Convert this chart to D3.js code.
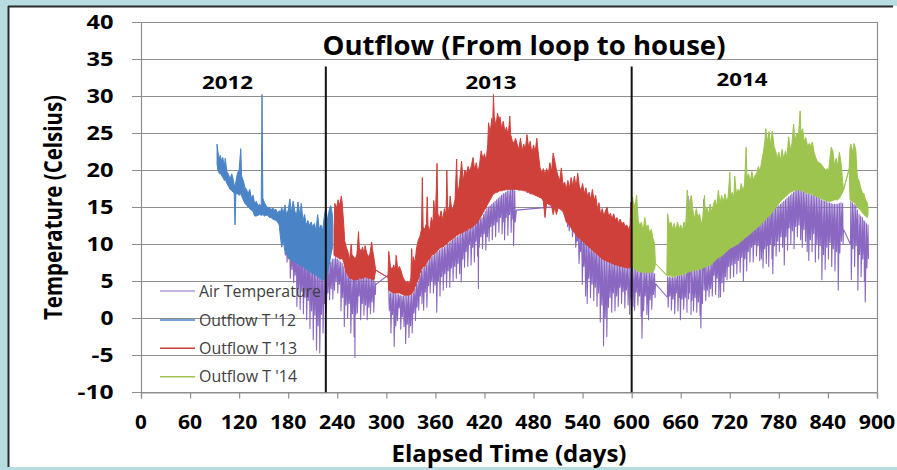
<!DOCTYPE html>
<html>
<head>
<meta charset="utf-8">
<script src="https://cdn.jsdelivr.net/npm/d3@7/dist/d3.min.js"></script>
<style>
  html, body { margin: 0; padding: 0; background: #b7dde1; }
  svg { display: block; }
  text { font-family: "Open Sans", "Liberation Sans", sans-serif; }
</style>
</head>
<body>
<svg id="chart" width="897" height="470"></svg>
<script>
// Axis ticks
const xTicks = [0, 60, 120, 180, 240, 300, 360, 420, 480, 540, 600, 660, 720, 780, 840, 900];
const yTicks = [-10, -5, 0, 5, 10, 15, 20, 25, 30, 35, 40];

// Season dividers (elapsed days) and year captions
const dividerDays = [226, 600];
const yearLabels = ["2012", "2013", "2014"];

const seriesNames = ["Air Temperature", "Outflow T '12", "Outflow T '13", "Outflow T '14"];

// Each record: [elapsed day, daily high, daily low] in Celsius
const outflow12 = [
  [93,23.5,20.8],[94,22.5,20.0],[96,21.5,19.5],[97,22.0,19.6],[99,21.0,19.2],[100,21.7,19.0],
  [102,20.5,18.6],[103,21.6,18.8],[105,19.8,18.2],[107,19.4,17.8],[109,18.8,17.4],[111,19.5,17.2],
  [113,18.6,17.0],[114,18.0,16.8],[115,17.8,12.6],[116,18.4,16.8],[118,19.6,16.8],[120,20.0,16.6],
  [122,22.9,16.8],[123,19.2,16.5],[125,18.6,16.0],[127,17.7,15.5],[129,17.4,15.3],[131,16.8,15.0],
  [133,17.4,14.8],[135,16.2,14.6],[137,16.6,14.4],[139,15.5,13.8],[141,15.8,13.8],[143,15.2,13.9],
  [145,15.4,14.0],[147,15.0,13.9],[148,30.2,13.9],[149,16.2,14.0],[151,15.6,13.8],[153,15.2,13.9],
  [155,14.9,13.9],[157,15.0,13.6],[159,14.6,13.6],[161,14.9,13.4],[163,14.6,13.3],[165,14.7,13.2],
  [167,14.2,13.0],[169,14.5,12.6],[171,14.4,10.5],[172,15.0,9.6],[174,14.2,10.5],[176,15.3,9.0],
  [178,14.0,8.8],[180,14.6,8.4],[182,16.1,8.0],[184,14.2,7.8],[186,15.8,7.6],[188,14.5,7.8],
  [190,13.8,7.4],[192,15.7,7.4],[194,14.0,7.2],[196,15.5,7.0],[198,13.2,7.0],[200,14.0,6.8],
  [202,12.6,6.6],[204,13.2,6.5],[206,12.5,6.3],[208,13.0,6.2],[210,12.3,6.0],[212,12.8,6.0],
  [214,11.8,5.8],[216,14.0,5.6],[218,12.0,5.5],[220,12.6,5.3],[222,11.8,5.2],[224,13.6,5.2],
  [226,15.0,5.5],[228,13.2,6.0],[230,14.5,7.0],[232,15.2,8.5],[234,14.0,9.5]
];

const outflow13 = [
  [236,12.0,8.5],[237,15.5,8.4],[239,14.8,8.3],[241,16.0,8.2],[243,15.2,8.0],[245,16.5,8.0],
  [246,15.6,8.2],[248,12.5,7.5],[249,10.5,7.0],[251,9.6,6.2],[253,9.0,5.8],[255,7.8,5.4],
  [257,10.0,5.4],[258,8.6,5.3],[260,8.3,5.2],[262,8.0,5.2],[264,8.6,5.2],[266,11.7,5.3],
  [267,9.5,5.4],[269,9.0,5.4],[271,9.6,5.4],[273,8.7,5.5],[274,9.8,5.6],[276,8.8,5.5],
  [278,8.3,5.4],[280,8.7,5.4],[282,10.3,5.3],[283,9.4,5.2],[285,8.0,5.2],[287,6.5,6.5],
  [302,5.5,5.5],[303,9.0,3.8],[305,7.0,3.6],[307,6.5,3.5],[309,7.2,3.4],[311,6.4,3.4],
  [312,8.5,3.4],[314,6.6,3.4],[316,7.0,3.4],[318,6.4,3.3],[320,5.6,3.2],[322,5.2,3.1],
  [324,4.8,3.1],[326,5.0,3.1],[328,4.6,3.1],[330,5.4,3.2],[331,9.4,3.3],[332,6.8,3.4],
  [333,8.3,3.6],[335,7.5,4.2],[337,9.5,4.8],[339,10.5,5.2],[341,11.0,6.0],[343,12.0,6.6],
  [344,19.0,6.8],[345,12.3,7.0],[347,12.0,7.0],[349,12.8,7.4],[350,16.4,7.6],[351,12.5,7.8],
  [353,11.8,8.0],[355,13.6,8.4],[357,12.8,8.6],[358,15.9,8.6],[360,13.5,8.8],[362,20.9,9.0],
  [363,14.1,9.2],[365,13.5,9.4],[367,14.5,9.6],[369,13.2,9.6],[371,14.8,9.8],[373,14.0,10.0],
  [374,20.0,10.0],[375,15.0,10.2],[377,14.4,10.4],[378,16.5,10.5],[380,14.6,10.6],[382,15.0,10.8],
  [384,16.0,11.0],[386,21.5,11.2],[387,16.8,11.2],[389,17.8,11.4],[391,20.0,11.4],[392,21.2,11.5],
  [394,18.5,11.6],[396,20.0,11.8],[398,19.5,11.8],[400,20.5,12.0],[402,19.8,12.2],[404,20.6,12.2],
  [406,21.7,12.4],[408,20.0,12.6],[410,21.0,12.8],[412,19.6,13.0],[414,20.8,13.4],[416,22.6,13.8],
  [418,21.5,14.2],[420,22.2,14.6],[422,21.2,15.0],[424,23.5,15.4],[425,26.4,15.6],[427,25.0,16.0],
  [429,27.0,16.4],[430,25.8,16.6],[431,30.2,16.8],[432,27.2,16.8],[434,26.0,17.0],[436,27.7,17.0],
  [438,26.6,17.2],[439,27.2,17.2],[441,25.6,17.2],[443,26.6,17.3],[445,25.2,17.3],[447,25.8,17.4],
  [449,24.6,17.4],[451,27.3,17.4],[452,24.8,17.4],[454,24.0,17.4],[456,23.6,17.4],[458,24.3,17.4],
  [460,23.5,17.4],[462,22.8,17.3],[464,24.3,17.3],[466,22.6,17.3],[468,23.5,17.2],[470,22.8,17.2],
  [472,24.8,17.0],[474,23.0,17.0],[476,23.9,16.8],[478,22.2,16.8],[480,23.4,16.7],[482,22.4,16.6],
  [484,24.3,16.5],[486,22.1,16.4],[488,20.3,16.3],[490,19.6,16.2],[492,20.2,15.8],[494,19.4,13.6],
  [496,20.2,15.6],[498,19.4,15.4],[500,21.0,15.3],[502,19.8,15.2],[504,22.3,14.0],[506,21.2,15.0],
  [508,20.0,14.0],[510,19.2,14.9],[512,18.6,14.8],[514,20.3,14.6],[516,18.0,14.4],[518,18.4,13.8],
  [520,17.4,13.0],[522,18.6,12.8],[524,17.6,12.6],[526,19.0,12.2],[528,17.8,11.8],[530,19.2,11.6],
  [532,17.6,11.2],[534,19.6,11.0],[536,17.8,10.8],[538,17.2,10.6],[540,18.2,10.4],[542,16.8,10.2],
  [544,17.6,10.0],[546,16.5,9.8],[548,17.0,9.6],[550,16.0,9.4],[552,17.4,9.2],[554,15.8,9.0],
  [556,16.6,8.8],[558,14.8,8.6],[560,15.6,8.4],[562,14.0,8.2],[564,14.8,8.0],[566,13.8,7.9],
  [568,14.5,7.8],[570,15.0,7.7],[572,13.6,7.6],[574,14.2,7.5],[576,13.4,7.4],[578,14.1,7.3],
  [580,13.3,7.2],[582,13.6,7.2],[584,12.8,7.1],[586,13.4,7.0],[588,12.7,7.0],[590,13.0,6.9],
  [592,12.4,6.9],[594,12.6,6.8],[596,12.0,6.8],[598,12.5,6.8],[599,15.7,7.0],[600,11.5,7.2]
];

const outflow14 = [
  [600,12.0,7.2],[601,16.4,7.0],[603,15.0,6.8],[605,15.8,6.6],[606,16.6,6.4],[608,13.2,6.3],
  [610,12.4,6.3],[612,13.0,6.2],[614,11.6,6.2],[616,13.6,6.2],[618,12.2,6.2],[620,12.6,6.2],
  [622,11.4,6.2],[624,12.0,6.2],[626,10.8,6.3],[628,10.1,6.6],[629,7.4,7.4],
  [643,5.8,5.8],[644,14.1,5.8],[646,12.6,5.8],[648,13.0,5.7],[650,12.0,5.6],[652,12.8,5.6],
  [654,11.8,5.7],[656,13.0,5.8],[658,12.0,5.8],[660,12.6,5.8],[662,11.8,5.9],[664,13.0,6.0],
  [666,12.2,6.0],[668,17.3,6.2],[669,13.4,6.2],[671,15.9,6.3],[673,16.6,6.4],[675,14.4,6.4],
  [677,13.4,6.5],[679,14.8,6.5],[681,13.6,6.6],[683,14.1,6.6],[685,12.6,6.6],[687,13.6,6.8],
  [689,16.6,6.9],[690,14.4,7.0],[692,15.0,7.0],[694,14.0,7.1],[696,15.4,7.2],[698,14.2,7.3],
  [700,15.4,7.6],[702,16.0,7.8],[704,15.0,8.0],[706,17.3,8.2],[708,15.4,8.3],[710,16.6,8.4],
  [712,15.6,8.6],[714,16.8,8.8],[716,15.8,9.0],[718,16.4,9.2],[720,19.7,9.4],[721,16.6,9.5],
  [723,17.0,9.6],[725,16.2,9.7],[726,19.2,9.8],[728,16.8,9.9],[730,17.4,10.0],[732,17.0,10.2],
  [734,18.2,10.4],[736,17.2,10.6],[738,18.0,10.8],[740,23.1,11.0],[741,19.0,11.0],[743,19.5,11.2],
  [745,18.4,11.4],[747,19.8,11.6],[749,18.6,11.8],[751,19.3,12.0],[753,19.6,12.2],[755,20.5,12.4],
  [757,19.8,12.6],[759,21.2,12.8],[761,22.4,13.0],[763,24.0,13.2],[764,25.6,13.4],[766,23.8,13.6],
  [768,25.2,13.8],[770,23.4,14.0],[772,25.3,14.3],[774,23.2,14.6],[776,22.6,14.9],[778,21.6,15.2],
  [780,22.4,15.5],[782,21.3,15.8],[784,22.8,16.0],[786,21.4,16.2],[788,22.6,16.4],[790,21.8,16.6],
  [792,24.5,16.8],[794,22.8,17.0],[796,23.6,17.1],[798,26.2,17.2],[800,24.0,17.3],[802,25.0,17.3],
  [804,24.6,17.3],[806,28.0,17.3],[807,25.0,17.2],[809,25.6,17.2],[811,23.8,17.1],[813,24.4,17.0],
  [815,23.2,16.9],[817,23.6,16.8],[819,23.3,16.8],[821,23.8,16.7],[823,22.4,16.6],[825,21.7,16.5],
  [827,21.2,16.4],[829,21.0,16.3],[831,20.9,16.2],[833,20.6,16.1],[835,20.3,16.0],[837,20.0,15.9],
  [839,20.2,15.8],[841,20.0,15.8],[844,23.1,15.8],[846,22.6,15.9],[848,20.6,16.0],[850,21.6,16.0],
  [852,20.6,16.0],[854,22.4,16.2],[856,21.0,16.6],[858,18.5,17.0],[859,17.3,17.3],
  [866,20.2,20.2],[867,23.0,16.0],[868,23.5,15.9],[870,22.4,15.8],[872,23.6,15.6],[874,22.8,15.4],
  [876,19.0,15.0],[878,18.6,14.8],[880,17.6,14.6],[882,17.0,14.3],[884,16.8,14.0],[886,16.0,13.8],
  [888,15.6,13.6],[889,15.0,14.0]
];

const airTemp = [
  [176,9.0,8.5],[178,9.5,7.6],[180,10.0,8.0],[182,9.0,5.4],[184,10.0,6.6],[186,9.4,4.8],
  [188,8.8,5.8],[190,9.5,1.6],[192,9.0,4.0],[194,8.6,1.2],[196,9.0,3.6],[198,8.0,0.6],
  [200,8.4,2.8],[202,7.8,-0.2],[204,8.2,2.4],[206,7.6,-1.4],[208,7.8,1.0],[210,7.2,-2.9],
  [212,7.4,0.4],[214,7.0,-4.3],[216,6.8,-1.0],[218,6.6,-4.7],[220,6.4,0.5],[222,6.2,-2.0],
  [224,6.0,2.0],[226,6.4,0.8],[228,6.6,3.4],[230,7.0,2.5],[232,7.6,4.0],[234,8.0,2.6],
  [236,8.0,3.8],[238,8.2,5.0],[240,8.0,3.4],[242,7.8,4.6],[244,7.6,1.0],[246,7.4,2.8],
  [248,7.0,-1.1],[250,6.8,1.8],[252,6.4,0.0],[254,6.0,2.0],[256,5.8,-2.0],[258,5.6,0.6],
  [260,5.4,-2.5],[261,5.4,-5.3],[262,5.4,0.5],[264,5.6,0.7],[266,5.6,3.0],[268,5.6,-0.2],
  [270,5.6,2.0],[272,5.6,0.4],[274,5.8,1.8],[276,5.6,-0.2],[278,5.6,1.5],[280,5.5,0.6],
  [282,5.4,2.2],[284,5.4,0.8],[286,5.0,3.2],[287,4.6,4.6],
  [302,5.8,5.8],[303,3.6,1.0],[305,3.4,-2.0],[307,3.4,0.5],[309,3.4,-3.8],[311,3.3,-1.0],
  [313,3.2,-0.3],[315,3.2,1.4],[317,3.1,-1.5],[319,3.0,0.2],[321,3.0,-1.1],[323,3.0,-3.4],
  [325,3.0,-0.8],[327,3.0,-2.6],[329,3.0,-1.0],[331,3.2,-2.0],[333,3.4,0.7],[335,4.0,-0.3],
  [337,4.6,1.5],[339,5.0,1.1],[341,5.8,3.0],[343,6.4,2.0],[345,6.8,1.1],[347,7.0,3.5],
  [349,7.2,1.5],[351,7.6,4.4],[353,8.0,3.4],[355,8.2,5.0],[357,8.4,3.4],[359,8.6,4.5],
  [361,8.8,0.8],[363,9.0,5.0],[365,9.2,3.0],[367,9.4,5.6],[369,9.4,3.8],[371,9.6,6.0],
  [373,9.8,4.2],[375,10.0,6.4],[377,10.2,4.2],[379,10.4,6.8],[381,10.6,5.0],[383,10.8,7.0],
  [385,11.0,5.4],[387,11.0,7.4],[389,11.2,6.0],[391,11.4,4.9],[393,11.6,8.0],[395,11.8,6.9],
  [397,12.0,9.0],[399,12.0,7.0],[401,12.2,10.0],[403,12.2,7.2],[405,12.4,9.6],[407,12.6,7.6],
  [409,12.8,10.4],[411,13.0,8.4],[412,13.0,4.0],[413,13.2,9.6],[415,13.4,11.0],[417,13.6,9.4],
  [419,14.0,11.4],[421,14.4,9.2],[423,14.8,11.0],[425,15.0,10.4],[427,15.2,12.4],[429,15.4,10.6],
  [431,15.6,12.6],[433,15.8,11.0],[435,16.0,13.0],[437,16.2,11.6],[439,16.4,13.6],[441,16.6,11.4],
  [443,16.8,13.0],[444,16.8,10.6],[446,17.0,13.6],[448,17.2,11.2],[450,17.2,14.0],[452,17.4,11.6],
  [454,17.4,13.4],[455,17.4,9.8],[457,17.2,13.0],[459,14.6,14.6],
  [520,15.2,15.2],[521,14.0,12.4],[523,13.6,11.8],[525,13.2,12.6],[527,12.8,11.0],[529,12.4,11.8],
  [531,12.0,9.6],[533,11.8,10.4],[535,11.4,7.4],[537,11.2,9.0],[539,11.0,4.6],[541,10.8,7.0],
  [543,10.6,3.0],[545,10.4,2.0],[547,10.2,5.4],[549,10.0,2.8],[551,9.8,4.6],[553,9.6,2.4],
  [555,9.4,4.2],[557,9.2,1.6],[559,9.0,3.4],[561,8.8,-0.5],[563,8.6,1.8],[565,8.4,-3.7],
  [567,8.2,0.0],[569,8.0,-2.5],[571,7.9,1.5],[573,7.8,2.8],[575,7.7,0.8],[577,7.6,3.4],
  [579,7.5,1.0],[581,7.4,3.0],[583,7.3,1.6],[585,7.2,4.2],[587,7.1,2.0],[589,7.0,3.6],
  [591,7.0,1.4],[593,6.9,3.8],[595,6.9,1.8],[597,6.8,0.5],[599,6.8,2.6],[601,7.0,1.6],
  [603,6.8,1.1],[605,6.6,3.5],[607,6.4,1.8],[609,6.3,3.0],[611,6.3,0.2],[612,6.2,-2.7],
  [614,6.2,1.0],[616,6.2,3.0],[618,6.2,0.5],[620,6.2,-0.2],[622,6.2,2.5],[624,6.2,1.2],
  [626,6.3,3.2],[628,6.0,2.8],[629,4.6,4.6],
  [643,2.9,2.9],[644,5.6,1.5],[646,5.6,3.0],[648,5.5,1.1],[650,5.5,2.6],[652,5.5,0.6],
  [654,5.6,3.4],[656,5.7,1.0],[658,5.8,2.8],[659,5.8,-0.2],[661,5.8,2.6],[663,5.9,1.2],
  [665,6.0,2.8],[667,6.0,0.8],[669,16.5,2.6],[670,6.2,3.4],[672,16.0,0.5],[673,6.4,2.4],
  [675,6.4,1.0],[677,6.5,2.8],[679,6.5,0.8],[681,6.6,2.2],[683,6.6,0.4],[684,6.6,-1.3],
  [686,6.7,2.0],[688,16.0,3.8],[690,7.0,2.4],[692,7.0,3.8],[694,7.1,2.9],[696,7.2,4.0],
  [698,7.4,3.0],[700,9.0,5.8],[702,9.2,3.2],[704,9.4,5.4],[706,9.6,2.8],[708,9.8,2.9],
  [710,10.0,4.8],[712,10.2,3.6],[714,10.4,5.6],[716,10.6,5.2],[718,10.8,7.0],[720,11.0,5.4],
  [722,11.2,7.2],[724,11.4,5.6],[726,11.6,7.4],[728,11.8,6.0],[730,12.0,7.8],[732,12.2,6.2],
  [734,12.4,8.2],[736,12.6,5.0],[738,12.8,8.0],[740,13.0,6.4],[742,13.2,9.0],[744,13.4,7.6],
  [746,12.6,9.6],[748,12.8,7.6],[750,12.8,10.0],[752,12.6,8.4],[754,13.0,9.8],[756,13.2,7.8],
  [758,13.2,8.0],[760,13.4,6.8],[762,13.6,9.4],[764,13.8,7.4],[766,14.0,9.8],[767,14.2,7.0],
  [769,14.4,10.0],[771,14.6,8.0],[772,14.8,6.0],[774,14.8,9.8],[776,15.0,8.4],[778,15.0,10.4],
  [780,15.2,9.0],[782,15.4,11.0],[784,15.6,9.6],[786,15.8,7.2],[788,16.0,11.0],[790,16.2,9.2],
  [792,16.4,12.2],[794,16.6,10.0],[796,16.8,11.8],[798,17.0,9.4],[800,17.2,12.4],[802,17.3,11.0],
  [804,17.4,12.6],[806,17.3,10.6],[808,17.2,9.6],[810,17.1,12.0],[812,17.0,10.4],[814,16.8,9.0],
  [816,16.8,7.8],[818,16.7,10.6],[820,16.6,9.0],[822,16.6,11.4],[824,16.5,7.6],[826,16.4,10.0],
  [828,16.3,8.0],[830,16.2,9.8],[832,16.0,5.2],[834,15.9,8.6],[836,15.8,6.6],[838,15.8,9.6],
  [840,15.6,8.0],[842,15.6,10.2],[844,15.5,7.0],[846,15.4,9.4],[848,15.4,6.4],[850,15.4,9.0],
  [852,15.4,3.8],[854,15.5,8.8],[856,15.6,10.4],[858,15.5,10.0],[859,11.9,11.9],
  [867,10.1,10.1],[868,15.8,5.2],[870,15.6,9.4],[872,15.4,7.0],[874,15.2,9.8],[876,14.6,3.8],
  [878,14.0,8.6],[880,13.8,5.6],[882,13.6,8.0],[884,13.2,5.0],[885,13.0,2.2],[887,12.8,6.8],
  [889,12.6,8.0]
];

const colors = {
  air: "#8a68c2",
  o12: "#4a83c6",
  o13: "#cf403b",
  o14: "#9cc44f"
};

const svg = d3.select("#chart");
const W = 897, H = 470;
const plot = { left: 141, right: 877, top: 22, bottom: 392.3 };

// Frame: tinted surround with a white panel
svg.append("rect").attr("width", W).attr("height", H).attr("fill", "#b7dde1");
svg.append("rect").attr("x", 8).attr("y", 6).attr("width", W - 8).attr("height", 461).attr("fill", "#ffffff");
svg.append("line").attr("x1", 8).attr("x2", 893).attr("y1", 6.5).attr("y2", 6.5)
  .attr("stroke", "#2a2a2a").attr("stroke-width", 2);
svg.append("line").attr("x1", 8.5).attr("x2", 8.5).attr("y1", 6).attr("y2", 467)
  .attr("stroke", "#2a2a2a").attr("stroke-width", 2);

const x = d3.scaleLinear().domain([0, 900]).range([plot.left, plot.right]);
const y = d3.scaleLinear().domain([-10, 40]).range([plot.bottom, plot.top]);

// Horizontal gridlines with short outward ticks on the left
svg.append("g").attr("class", "grid")
  .selectAll("line").data(yTicks).join("line")
  .attr("x1", plot.left - 9).attr("x2", plot.right)
  .attr("y1", d => Math.round(y(d)) + 0.5).attr("y2", d => Math.round(y(d)) + 0.5)
  .attr("stroke", "#8e8e8e").attr("stroke-width", 1.2);

// Plot frame sides
svg.append("line").attr("x1", plot.left + 0.5).attr("x2", plot.left + 0.5)
  .attr("y1", plot.top).attr("y2", plot.bottom).attr("stroke", "#8e8e8e").attr("stroke-width", 1.2);
svg.append("line").attr("x1", plot.right + 0.5).attr("x2", plot.right + 0.5)
  .attr("y1", plot.top).attr("y2", plot.bottom).attr("stroke", "#8e8e8e").attr("stroke-width", 1.2);

// X axis with downward ticks
const xAxis = d3.axisBottom(x).tickValues(xTicks).tickSize(6).tickFormat("");
const gx = svg.append("g").attr("transform", `translate(0,${Math.round(plot.bottom) + 0.5})`).call(xAxis);
gx.select(".domain").attr("stroke", "#8e8e8e").attr("stroke-width", 1.2);
gx.selectAll(".tick line").attr("stroke", "#8e8e8e").attr("stroke-width", 1.2);

// Air temperature: daily swings traced as a high/low zigzag
const swing = d3.line().x(d => x(d[0])).y(d => y(d[1]));
const swingPoints = data => data.flatMap(d => [[d[0], d[1]], [d[0] + 0.6, d[2]]]);
svg.append("path")
  .attr("d", swing(swingPoints(airTemp)))
  .attr("fill", "none")
  .attr("stroke", colors.air)
  .attr("stroke-width", 1.1)
  .attr("stroke-linejoin", "round");

// Outflow temperatures drawn as daily high/low bands
const band = d3.area()
  .x(d => x(d[0]))
  .y0(d => y(d[2]))
  .y1(d => y(d[1]));

const outflows = [
  { data: outflow12, color: colors.o12 },
  { data: outflow13, color: colors.o13 },
  { data: outflow14, color: colors.o14 }
];
svg.append("g").selectAll("path").data(outflows).join("path")
  .attr("d", d => band(d.data))
  .attr("fill", d => d.color)
  .attr("stroke", d => d.color)
  .attr("stroke-width", 1)
  .attr("stroke-linejoin", "miter");

// Season dividers
svg.append("g").selectAll("line").data(dividerDays).join("line")
  .attr("x1", d => x(d)).attr("x2", d => x(d))
  .attr("y1", y(34)).attr("y2", y(-10))
  .attr("stroke", "#111").attr("stroke-width", 2);

// Text helper: fixed rendered width, glyphs stretched to fit
function label(parent, o) {
  const t = parent.append("text")
    .attr("x", o.x).attr("y", o.y)
    .attr("font-size", o.size)
    .attr("font-weight", o.weight || "bold")
    .attr("fill", o.fill || "#000")
    .text(o.text);
  if (o.len) t.attr("textLength", o.len).attr("lengthAdjust", "spacingAndGlyphs");
  return t;
}

const txt = svg.append("g");

// Y tick labels (right aligned at x=113)
const yLabelWidth = s => s.split("").reduce((w, c) => w + (c === "-" ? 9 : 14), 0) - 1;
yTicks.forEach(v => {
  const s = String(v);
  const w = yLabelWidth(s);
  label(txt, { x: 113.5 - w, y: y(v) + 7, text: s, size: 19, len: w });
});

// X tick labels (centred under ticks)
xTicks.forEach(v => {
  const s = String(v);
  const w = s.length * 12.4 - 0.6;
  label(txt, { x: x(v) - w / 2, y: 428.5, text: s, size: 19.5, len: w });
});

// Title, year captions, axis titles
label(txt, { x: 322.5, y: 55, text: "Outflow (From loop to house)", size: 26.6, len: 403 });
const yearPos = [[202, 89], [465.5, 89], [716.5, 86]];
yearLabels.forEach((s, i) => label(txt, { x: yearPos[i][0], y: yearPos[i][1], text: s, size: 18, len: 51 }));
label(txt, { x: 391.5, y: 462, text: "Elapsed Time (days)", size: 22.8, len: 235 });

txt.append("text")
  .attr("transform", "translate(61.5,207.5) scale(1.2,1) rotate(-90)")
  .attr("text-anchor", "middle")
  .attr("font-size", 21.5).attr("font-weight", "bold").attr("fill", "#000")
  .attr("textLength", 225).attr("lengthAdjust", "spacingAndGlyphs")
  .text("Temperature (Celsius)");

// Legend
const legendColors = [colors.air, colors.o12, colors.o13, colors.o14];
const legendY = [291, 320, 348.3, 376.7];
const legendLen = [122, 97, 98, 98];
const lg = svg.append("g");
seriesNames.forEach((name, i) => {
  lg.append("line")
    .attr("x1", 160).attr("x2", 195)
    .attr("y1", legendY[i]).attr("y2", legendY[i])
    .attr("stroke", legendColors[i]).attr("stroke-width", i === 0 ? 1.2 : 1.6);
  label(lg, { x: 199, y: legendY[i] + 5.5, text: name, size: 15.5, weight: "normal", fill: "#404040", len: legendLen[i] });
});
</script>
</body>
</html>
